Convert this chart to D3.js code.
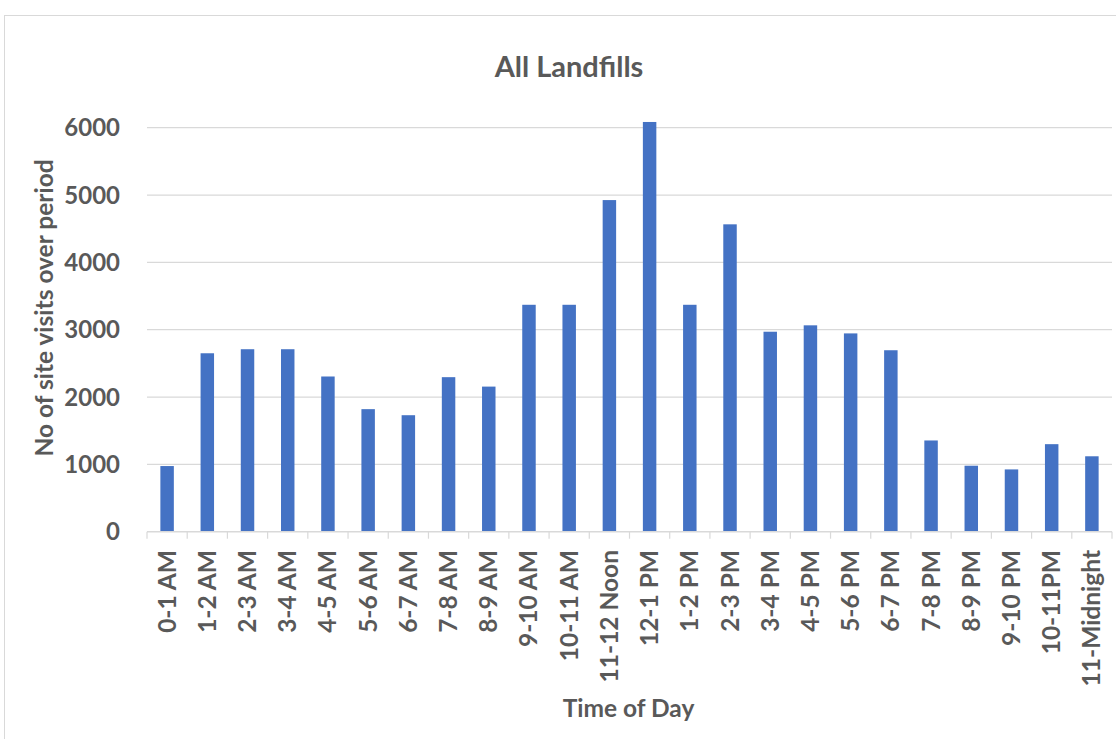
<!DOCTYPE html>
<html>
<head>
<meta charset="utf-8">
<script src="https://cdn.jsdelivr.net/npm/d3@7"></script>
<style>
  html, body { margin: 0; padding: 0; background: #fff; }
  svg { display: block; }
  text { font-family: Lato, "Open Sans", sans-serif; font-weight: 700; fill: #595959; }
</style>
</head>
<body>
<svg id="chart" width="1116" height="739"></svg>
<script>
// Hourly periods across the day
const categories = [
  "0-1 AM", "1-2 AM", "2-3 AM", "3-4 AM", "4-5 AM", "5-6 AM", "6-7 AM", "7-8 AM",
  "8-9 AM", "9-10 AM", "10-11 AM", "11-12 Noon", "12-1 PM", "1-2 PM", "2-3 PM",
  "3-4 PM", "4-5 PM", "5-6 PM", "6-7 PM", "7-8 PM", "8-9 PM", "9-10 PM",
  "10-11PM", "11-Midnight"
];

// Site visits per period, all landfills combined
const visits = [
  975, 2650, 2710, 2710, 2305, 1820, 1730, 2295,
  2155, 3370, 3370, 4925, 6085, 3370, 4565,
  2970, 3065, 2945, 2695, 1355, 980, 925,
  1300, 1120
];

const yTicks = [0, 1000, 2000, 3000, 4000, 5000, 6000];

const chartTitle = "All Landfills";
const xTitle = "Time of Day";
const yTitle = "No of site visits over period";

const svg = d3.select("#chart");
const plot = { left: 147, right: 1112, top: 127.7, bottom: 531.7 };

// Outer chart frame
svg.append("rect")
  .attr("x", 4.5).attr("y", 15.5)
  .attr("width", 1200).attr("height", 800)
  .attr("fill", "#fff")
  .attr("stroke", "#D9D9D9")
  .attr("stroke-width", 1);

const x = d3.scaleBand()
  .domain(categories)
  .range([plot.left, plot.right])
  .paddingInner(0.665)
  .paddingOuter(0.3325);

const y = d3.scaleLinear()
  .domain([0, 6000])
  .range([plot.bottom, plot.top]);

// Horizontal gridlines
svg.append("g")
  .selectAll("line")
  .data(yTicks.filter(d => d > 0))
  .join("line")
  .attr("x1", plot.left).attr("x2", plot.right)
  .attr("y1", d => y(d)).attr("y2", d => y(d))
  .attr("stroke", "#D9D9D9")
  .attr("stroke-width", 1.2);

// Y tick labels
svg.append("g")
  .selectAll("text")
  .data(yTicks)
  .join("text")
  .attr("x", 120)
  .attr("y", d => y(d))
  .attr("dy", "0.36em")
  .attr("text-anchor", "end")
  .style("font-size", "24px")
  .text(d => d);

// Bars
svg.append("g")
  .selectAll("rect")
  .data(categories.map((c, i) => ({ c, v: visits[i] })))
  .join("rect")
  .attr("x", d => x(d.c))
  .attr("width", x.bandwidth())
  .attr("y", d => y(d.v))
  .attr("height", d => y(0) - y(d.v))
  .attr("fill", "#4472C4");

// Category axis line and boundary ticks
const axis = svg.append("g");
axis.append("line")
  .attr("x1", plot.left).attr("x2", plot.right)
  .attr("y1", plot.bottom).attr("y2", plot.bottom)
  .attr("stroke", "#D9D9D9")
  .attr("stroke-width", 1.5);

const step = x.step();
const boundaries = d3.range(categories.length + 1).map(i => plot.left + i * step);
axis.selectAll("line.tick")
  .data(boundaries)
  .join("line")
  .attr("class", "tick")
  .attr("x1", d => d).attr("x2", d => d)
  .attr("y1", plot.bottom).attr("y2", plot.bottom + 7)
  .attr("stroke", "#D9D9D9")
  .attr("stroke-width", 1.2);

// Rotated category labels
axis.selectAll("text")
  .data(categories)
  .join("text")
  .attr("transform", d => `translate(${x(d) + x.bandwidth() / 2 + 8.5},550) rotate(-90)`)
  .attr("text-anchor", "end")
  .style("font-size", "24.5px")
  .text(d => d);

// Titles
svg.append("text")
  .attr("x", 569).attr("y", 77)
  .attr("text-anchor", "middle")
  .style("font-size", "29px")
  .text(chartTitle);

svg.append("text")
  .attr("x", (plot.left + plot.right) / 2 - 1).attr("y", 717)
  .attr("text-anchor", "middle")
  .style("font-size", "24.5px")
  .text(xTitle);

svg.append("text")
  .attr("transform", "translate(53,308) rotate(-90)")
  .attr("text-anchor", "middle")
  .style("font-size", "24.5px")
  .text(yTitle);
</script>
</body>
</html>
